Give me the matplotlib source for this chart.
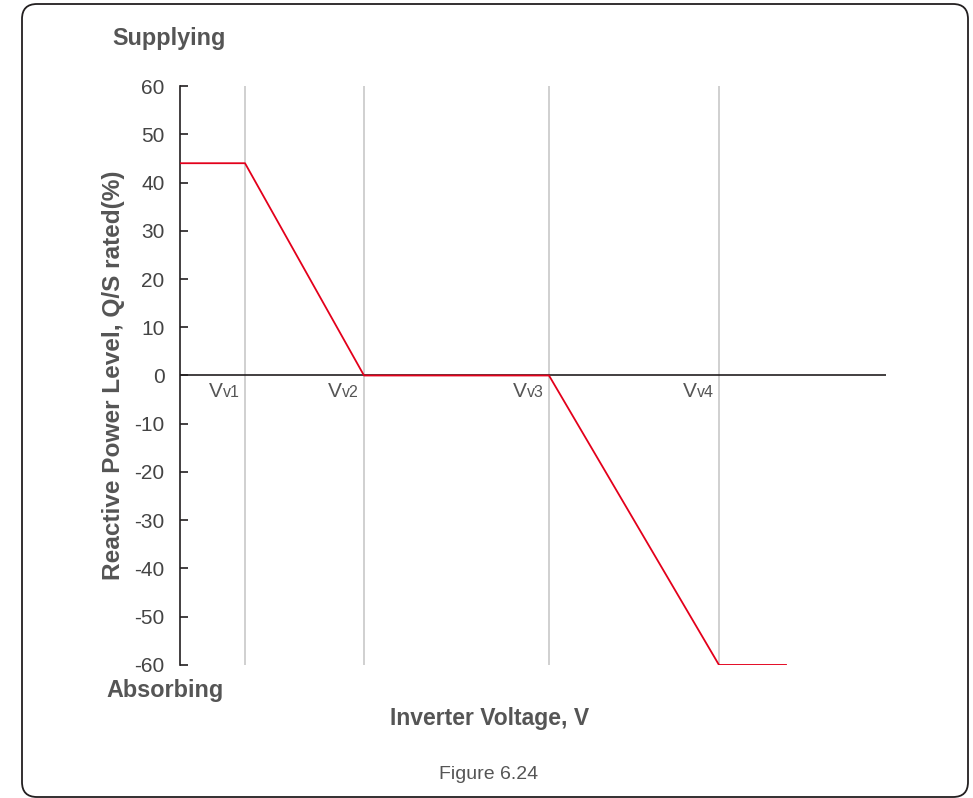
import matplotlib
matplotlib.use("Agg")
import matplotlib.pyplot as plt
from matplotlib.patches import FancyBboxPatch

plt.rcParams['font.family'] = ['Liberation Sans', 'DejaVu Sans']
plt.rcParams['axes.unicode_minus'] = False

# break points on the voltage axis (arbitrary units)
v_names = ['v1', 'v2', 'v3', 'v4']
v_pos = [6.5, 18.4, 36.9, 53.9]
x_end = 70.6

# Q/S curve
curve_x = [0, 6.5, 18.4, 36.9, 53.9, 60.6]
curve_y = [44, 44, 0, 0, -60, -60]

y_ticks = [60, 50, 40, 30, 20, 10, 0, -10, -20, -30, -40, -50, -60]

txt = '#555555'

fig = plt.figure(figsize=(9.73, 7.98), dpi=100)
ax = fig.add_axes([0.185, 0.1667, 0.7256, 0.7255])

for v in v_pos:
    ax.plot([v, v], [-60, 60], color='#c8c8c8', lw=1.2, zorder=1)
ax.axhline(0, color='#231f20', lw=1.2, zorder=2)
ax.plot(curve_x, curve_y, color='#e3001b', lw=1.3, zorder=3)

ax.set_xlim(0, x_end)
ax.set_ylim(-60, 60)
for s in ['top', 'right', 'bottom']:
    ax.spines[s].set_visible(False)
ax.spines['left'].set_color('#231f20')
ax.spines['left'].set_linewidth(1.2)
ax.set_xticks([])
ax.set_yticks(y_ticks)
ax.tick_params(axis='y', direction='in', length=6, width=1.2, color='#231f20',
               labelsize=15, labelcolor='#444444', pad=11)

for name, v in zip(v_names, v_pos):
    ax.annotate(name, (v, 0), xytext=(-4, -15.5), textcoords='offset points',
                ha='right', va='baseline', fontsize=11.5, color=txt)
    ax.annotate('V', (v, 0), xytext=(-16, -15.5), textcoords='offset points',
                ha='right', va='baseline', fontsize=15, color=txt)

fig.text(0.117, 0.530, 'Reactive Power Level, Q/S rated(%)', rotation=90,
         ha='center', va='center', fontsize=17.6, fontweight='bold', color=txt)
fig.text(0.116, 0.952, 'Supplying', ha='left', va='center', fontsize=16.8,
         fontweight='bold', color=txt)
fig.text(0.109, 0.135, 'Absorbing', ha='left', va='center', fontsize=16.8,
         fontweight='bold', color=txt)
fig.text(0.503, 0.100, 'Inverter Voltage, V', ha='center', va='center',
         fontsize=16.5, fontweight='bold', color=txt)
fig.text(0.502, 0.030, 'Figure 6.24', ha='center', va='center',
         fontsize=14, color=txt)

frame = FancyBboxPatch((0.22, 0.01), 9.46, 7.93, boxstyle='round,pad=0,rounding_size=0.15',
                       transform=fig.dpi_scale_trans, facecolor='none',
                       edgecolor='#231f20', lw=1.3)
fig.patches.append(frame)

fig.savefig('out.png', dpi=100)
